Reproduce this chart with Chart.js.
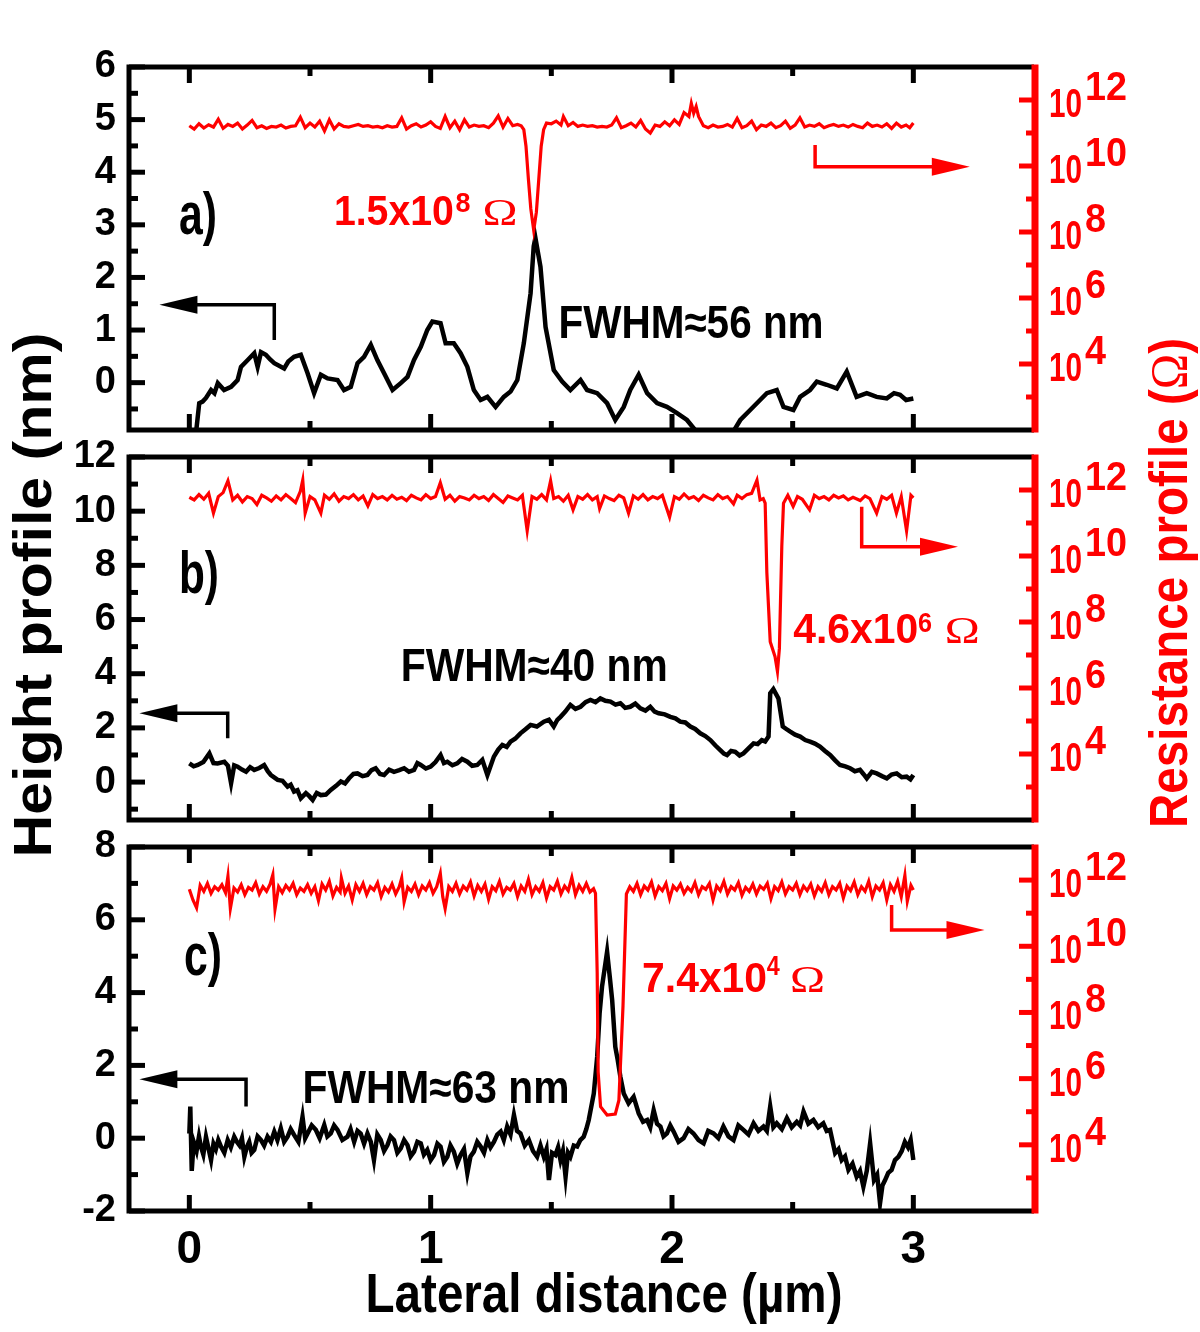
<!DOCTYPE html>
<html>
<head>
<meta charset="utf-8">
<script src="https://cdn.jsdelivr.net/npm/chart.js@4.4.1/dist/chart.umd.min.js"></script>
<style>
  html, body { margin: 0; padding: 0; background: #fff; }
  #wrap { position: relative; width: 1200px; height: 1332px; }
  #wrap canvas { position: absolute; left: 0; top: 0; }
</style>
</head>
<body>
<div id="wrap">
  <canvas id="panelA" width="1200" height="1332"></canvas>
  <canvas id="panelB" width="1200" height="1332"></canvas>
  <canvas id="panelC" width="1200" height="1332"></canvas>
</div>
<script>
'use strict';

// --- Axis ranges and ticks ---
const xRange = [-0.25, 3.5];
const xTicks = [0, 1, 2, 3];
const xMinorTicks = [0.5, 1.5, 2.5];

const heightRangeA = [-0.9, 6];
const heightTicksA = [0, 1, 2, 3, 4, 5, 6];
const heightMinorA = [-0.5, 0.5, 1.5, 2.5, 3.5, 4.5, 5.5];
const heightRangeB = [-1.4, 12];
const heightTicksB = [0, 2, 4, 6, 8, 10, 12];
const heightMinorB = [-1, 1, 3, 5, 7, 9, 11];
const heightRangeC = [-2, 8];
const heightTicksC = [-2, 0, 2, 4, 6, 8];
const heightMinorC = [-1, 1, 3, 5, 7];

// resistance axis, in powers of ten
const resRangeExp = [2, 13];
const resTickExp = [4, 6, 8, 10, 12];
const resMinorExp = [3, 5, 7, 9, 11];

// --- Height profiles (µm, nm) ---
const heightA = [
  [0.022,-1.20],[0.028,-0.94],[0.041,-0.39],[0.055,-0.36],[0.069,-0.29],[0.090,-0.14],[0.104,-0.20],[0.118,-0.01],[0.144,-0.14],
  [0.173,-0.08],[0.200,0.05],[0.214,0.30],[0.242,0.43],[0.269,0.56],[0.283,0.30],[0.297,0.58],[0.317,0.53],[0.335,0.44],
  [0.352,0.37],[0.393,0.27],[0.410,0.40],[0.434,0.49],[0.462,0.53],[0.490,0.18],[0.517,-0.20],[0.545,0.15],[0.573,0.08],
  [0.614,0.05],[0.641,-0.14],[0.669,-0.08],[0.697,0.37],[0.724,0.49],[0.752,0.72],[0.779,0.43],[0.807,0.18],[0.842,-0.14],
  [0.876,-0.01],[0.904,0.11],[0.931,0.43],[0.959,0.68],[0.986,1.00],[1.007,1.16],[1.041,1.13],[1.062,0.75],[1.096,0.75],
  [1.124,0.56],[1.152,0.30],[1.179,-0.14],[1.207,-0.33],[1.235,-0.27],[1.269,-0.46],[1.303,-0.27],[1.331,-0.17],[1.359,0.05],
  [1.386,0.75],[1.414,1.70],[1.427,2.59],[1.434,2.75],[1.455,2.20],[1.476,1.06],[1.510,0.24],[1.545,0.02],[1.579,-0.14],
  [1.621,0.05],[1.648,-0.14],[1.690,-0.20],[1.731,-0.39],[1.765,-0.71],[1.800,-0.46],[1.827,-0.14],[1.862,0.15],[1.897,-0.20],
  [1.938,-0.39],[1.979,-0.46],[2.021,-0.58],[2.062,-0.71],[2.103,-0.94],[2.158,-1.18],[2.233,-1.09],[2.283,-0.71],[2.324,-0.52],
  [2.365,-0.33],[2.393,-0.20],[2.434,-0.14],[2.462,-0.46],[2.503,-0.52],[2.531,-0.27],[2.572,-0.14],[2.600,0.02],[2.641,-0.04],
  [2.683,-0.11],[2.724,0.21],[2.765,-0.27],[2.807,-0.20],[2.848,-0.27],[2.890,-0.30],[2.920,-0.20],[2.945,-0.23],[2.970,-0.33],[3.000,-0.30]
];
const heightB = [
  [0.000,0.69],[0.018,0.58],[0.035,0.63],[0.058,0.74],[0.083,1.06],[0.100,0.70],[0.117,0.69],[0.145,0.75],[0.160,0.60],[0.173,-0.04],
  [0.186,0.62],[0.200,0.57],[0.218,0.46],[0.235,0.38],[0.252,0.55],[0.269,0.45],[0.290,0.52],[0.310,0.63],[0.325,0.40],[0.338,0.26],
  [0.366,0.08],[0.386,0.05],[0.407,-0.17],[0.420,-0.10],[0.434,-0.35],[0.448,-0.30],[0.462,-0.60],[0.483,-0.41],[0.497,-0.52],
  [0.511,-0.66],[0.528,-0.40],[0.545,-0.48],[0.566,-0.46],[0.586,-0.29],[0.608,-0.14],[0.628,0.02],[0.645,-0.05],[0.662,0.14],
  [0.680,0.30],[0.697,0.32],[0.718,0.22],[0.738,0.26],[0.755,0.44],[0.772,0.51],[0.790,0.30],[0.807,0.26],[0.828,0.46],[0.848,0.38],
  [0.870,0.44],[0.890,0.51],[0.910,0.38],[0.931,0.45],[0.945,0.70],[0.959,0.63],[0.980,0.50],[1.000,0.57],[1.020,0.74],[1.041,1.00],
  [1.055,0.70],[1.069,0.75],[1.090,0.62],[1.110,0.69],[1.130,0.85],[1.152,0.75],[1.172,0.60],[1.193,0.63],[1.214,0.82],[1.235,0.26],
  [1.262,0.94],[1.280,1.20],[1.297,1.37],[1.315,1.30],[1.331,1.49],[1.350,1.60],[1.372,1.80],[1.393,1.95],[1.414,2.11],[1.440,2.05],
  [1.469,2.23],[1.490,2.30],[1.510,2.05],[1.525,2.30],[1.538,2.41],[1.558,2.60],[1.579,2.85],[1.600,2.70],[1.621,2.78],[1.642,2.95],
  [1.662,3.03],[1.683,2.95],[1.703,3.09],[1.724,3.00],[1.745,2.97],[1.766,2.86],[1.786,2.91],[1.806,2.74],[1.827,2.78],[1.848,2.90],
  [1.869,2.72],[1.890,2.64],[1.910,2.78],[1.928,2.60],[1.945,2.54],[1.970,2.50],[1.993,2.41],[2.014,2.35],[2.034,2.23],[2.055,2.20],
  [2.076,2.05],[2.096,1.96],[2.117,1.80],[2.138,1.70],[2.159,1.55],[2.180,1.35],[2.200,1.18],[2.215,1.05],[2.228,1.00],[2.245,1.15],
  [2.262,1.12],[2.280,0.98],[2.296,1.06],[2.318,1.25],[2.338,1.43],[2.355,1.40],[2.372,1.55],[2.386,1.50],[2.400,1.68],[2.407,3.28],
  [2.420,3.43],[2.441,3.09],[2.459,2.05],[2.475,1.95],[2.490,1.86],[2.510,1.75],[2.531,1.68],[2.552,1.55],[2.572,1.49],[2.592,1.42],
  [2.613,1.31],[2.634,1.15],[2.655,1.00],[2.676,0.80],[2.696,0.63],[2.718,0.58],[2.738,0.51],[2.758,0.40],[2.779,0.45],[2.793,0.30],
  [2.807,0.14],[2.828,0.38],[2.848,0.32],[2.870,0.22],[2.890,0.14],[2.910,0.28],[2.931,0.32],[2.952,0.18],[2.972,0.20],[2.988,0.10],[3.000,0.26]
];
const heightC = [
  [0.000,0.13],[0.004,0.87],[0.010,-0.90],[0.018,-0.10],[0.030,-0.35],[0.040,0.05],[0.048,-0.23],[0.058,-0.45],[0.069,0.04],
  [0.080,-0.30],[0.090,-0.60],[0.100,-0.15],[0.110,-0.30],[0.120,-0.05],[0.131,-0.23],[0.145,-0.40],[0.159,-0.05],[0.172,-0.25],
  [0.186,0.04],[0.197,-0.10],[0.208,-0.20],[0.218,0.00],[0.228,-0.51],[0.238,-0.25],[0.248,-0.10],[0.258,-0.40],[0.269,-0.32],
  [0.283,0.05],[0.297,-0.05],[0.310,-0.20],[0.324,0.04],[0.338,-0.10],[0.352,0.18],[0.365,-0.05],[0.379,0.27],[0.393,-0.10],
  [0.407,0.04],[0.420,0.25],[0.434,0.09],[0.452,-0.10],[0.469,0.59],[0.480,0.00],[0.490,0.13],[0.507,0.35],[0.524,0.23],
  [0.540,0.00],[0.559,0.36],[0.572,0.05],[0.586,0.13],[0.600,0.35],[0.614,0.23],[0.634,-0.05],[0.655,0.04],[0.668,0.25],
  [0.683,-0.10],[0.697,0.20],[0.710,0.13],[0.724,-0.15],[0.738,0.13],[0.752,-0.10],[0.765,-0.60],[0.779,0.10],[0.793,-0.05],
  [0.807,-0.35],[0.821,-0.19],[0.834,0.05],[0.848,-0.05],[0.862,-0.40],[0.876,-0.28],[0.890,-0.05],[0.904,-0.19],[0.917,-0.50],
  [0.931,-0.37],[0.945,-0.10],[0.959,-0.14],[0.972,-0.45],[0.986,-0.32],[1.000,-0.60],[1.014,-0.46],[1.028,-0.15],[1.041,-0.23],
  [1.055,-0.65],[1.069,-0.51],[1.082,-0.20],[1.096,-0.37],[1.110,-0.70],[1.124,-0.46],[1.138,-0.30],[1.152,-0.96],[1.165,-0.50],
  [1.179,-0.37],[1.193,-0.10],[1.207,-0.23],[1.221,-0.40],[1.235,-0.05],[1.248,-0.25],[1.262,-0.10],[1.276,0.10],[1.290,0.18],
  [1.303,-0.05],[1.317,0.32],[1.331,0.10],[1.345,0.64],[1.358,0.20],[1.372,0.13],[1.390,-0.20],[1.407,-0.05],[1.424,-0.35],
  [1.441,-0.51],[1.455,-0.20],[1.469,-0.51],[1.480,-0.30],[1.490,-1.15],[1.503,-0.40],[1.517,-0.46],[1.528,-0.25],[1.538,-0.60],
  [1.548,-0.35],[1.559,-1.06],[1.569,-0.40],[1.579,-0.51],[1.593,-0.20],[1.607,-0.23],[1.620,-0.05],[1.634,0.04],[1.645,0.25],
  [1.655,0.50],[1.676,1.23],[1.690,2.24],[1.700,3.43],[1.710,4.16],[1.724,4.80],[1.731,5.12],[1.742,4.44],[1.752,3.80],
  [1.765,2.51],[1.775,2.15],[1.786,1.69],[1.800,1.23],[1.820,0.96],[1.841,1.14],[1.862,0.68],[1.880,0.45],[1.897,0.50],
  [1.910,0.30],[1.924,0.77],[1.938,0.40],[1.952,0.32],[1.965,0.05],[1.979,0.13],[1.993,0.35],[2.007,0.18],[2.027,-0.10],
  [2.048,0.00],[2.068,0.25],[2.089,0.13],[2.110,-0.05],[2.131,-0.14],[2.150,0.20],[2.172,0.13],[2.192,0.00],[2.213,0.32],
  [2.234,0.05],[2.255,-0.05],[2.275,0.35],[2.296,0.23],[2.317,0.10],[2.338,0.41],[2.358,0.20],[2.379,0.32],[2.393,0.20],
  [2.407,0.87],[2.420,0.30],[2.434,0.41],[2.455,0.25],[2.476,0.55],[2.496,0.30],[2.517,0.45],[2.531,0.35],[2.545,0.73],
  [2.565,0.40],[2.586,0.50],[2.606,0.30],[2.627,0.41],[2.641,0.20],[2.655,0.23],[2.676,-0.41],[2.690,-0.30],[2.703,-0.60],
  [2.717,-0.50],[2.731,-0.87],[2.748,-0.70],[2.765,-1.06],[2.779,-0.90],[2.793,-1.33],[2.807,-0.90],[2.821,-0.14],[2.837,-1.15],
  [2.850,-1.00],[2.862,-1.79],[2.872,-1.30],[2.883,-1.15],[2.896,-0.95],[2.910,-0.87],[2.924,-0.60],[2.938,-0.51],[2.952,-0.35],
  [2.965,-0.10],[2.978,-0.25],[2.989,-0.05],[3.000,-0.60]
];

// --- Resistance profiles (µm, log10 of Ω) ---
const resA = [
  [0.00,11.22],[0.02,11.12],[0.04,11.28],[0.06,11.15],[0.08,11.25],[0.10,11.18],[0.12,11.42],[0.14,11.14],[0.16,11.26],[0.18,11.20],
  [0.20,11.30],[0.22,11.12],[0.24,11.24],[0.26,11.38],[0.28,11.16],[0.30,11.22],[0.32,11.14],[0.34,11.20],[0.36,11.18],[0.38,11.24],
  [0.40,11.15],[0.42,11.20],[0.44,11.22],[0.46,11.48],[0.48,11.16],[0.50,11.30],[0.52,11.18],[0.54,11.36],[0.56,11.06],[0.58,11.40],
  [0.60,11.12],[0.62,11.28],[0.64,11.20],[0.66,11.18],[0.68,11.22],[0.70,11.26],[0.72,11.20],[0.74,11.22],[0.76,11.18],[0.78,11.20],
  [0.80,11.16],[0.82,11.22],[0.84,11.18],[0.86,11.20],[0.88,11.46],[0.90,11.12],[0.92,11.22],[0.94,11.28],[0.96,11.18],[0.98,11.24],
  [1.00,11.34],[1.02,11.20],[1.04,11.14],[1.06,11.50],[1.08,11.16],[1.10,11.36],[1.12,11.10],[1.14,11.40],[1.16,11.18],[1.18,11.24],
  [1.20,11.20],[1.22,11.22],[1.24,11.16],[1.26,11.30],[1.28,11.52],[1.30,11.18],[1.32,11.44],[1.34,11.22],[1.36,11.26],[1.375,11.22],
  [1.386,11.10],[1.395,10.60],[1.405,9.60],[1.415,8.70],[1.427,8.05],[1.438,8.60],[1.448,9.60],[1.458,10.60],[1.468,11.10],
  [1.48,11.30],[1.50,11.28],[1.52,11.36],[1.54,11.24],[1.55,11.50],[1.57,11.22],[1.59,11.32],[1.61,11.20],[1.63,11.24],[1.65,11.20],
  [1.67,11.22],[1.69,11.18],[1.71,11.20],[1.73,11.18],[1.75,11.24],[1.77,11.46],[1.79,11.16],[1.81,11.22],[1.83,11.30],[1.85,11.18],
  [1.87,11.38],[1.89,11.12],[1.91,11.00],[1.93,11.24],[1.95,11.20],[1.97,11.34],[1.99,11.22],[2.01,11.40],[2.03,11.26],[2.05,11.62],
  [2.07,11.50],[2.08,11.90],[2.09,11.60],[2.10,11.80],[2.11,11.50],[2.13,11.22],[2.15,11.16],[2.17,11.24],[2.19,11.18],[2.21,11.20],
  [2.23,11.26],[2.25,11.18],[2.27,11.44],[2.29,11.16],[2.31,11.22],[2.33,11.36],[2.35,11.10],[2.37,11.24],[2.39,11.20],[2.41,11.30],
  [2.43,11.16],[2.45,11.22],[2.47,11.36],[2.49,11.14],[2.51,11.24],[2.53,11.46],[2.55,11.18],[2.57,11.24],[2.59,11.20],[2.61,11.28],
  [2.63,11.16],[2.65,11.22],[2.67,11.26],[2.69,11.20],[2.71,11.24],[2.73,11.18],[2.75,11.26],[2.77,11.20],[2.79,11.16],[2.81,11.30],
  [2.83,11.20],[2.85,11.24],[2.87,11.18],[2.89,11.28],[2.91,11.14],[2.93,11.30],[2.95,11.18],[2.97,11.24],[2.985,11.16],[3.00,11.30]
];
const resB = [
  [0.00,11.78],[0.02,11.70],[0.04,11.86],[0.06,11.72],[0.08,11.90],[0.10,11.30],[0.12,11.80],[0.14,11.92],[0.16,12.28],[0.18,11.70],
  [0.20,11.84],[0.22,11.64],[0.24,11.80],[0.26,11.74],[0.28,11.56],[0.30,11.84],[0.32,11.76],[0.34,11.66],[0.36,11.82],[0.38,11.70],
  [0.40,11.86],[0.42,11.74],[0.44,11.62],[0.46,11.96],[0.47,12.30],[0.48,11.30],[0.50,11.80],[0.52,11.70],[0.545,11.30],[0.56,11.84],
  [0.58,11.72],[0.60,11.88],[0.62,11.66],[0.64,11.80],[0.66,11.74],[0.68,11.86],[0.70,11.70],[0.72,11.82],[0.74,11.52],[0.76,11.86],
  [0.78,11.74],[0.80,11.80],[0.82,11.70],[0.84,11.84],[0.86,11.72],[0.88,11.78],[0.90,11.68],[0.92,11.84],[0.94,11.76],[0.96,11.70],
  [0.98,11.86],[1.00,11.74],[1.02,11.80],[1.04,12.22],[1.06,11.72],[1.08,11.84],[1.10,11.66],[1.12,11.80],[1.14,11.76],[1.16,11.70],
  [1.18,11.84],[1.20,11.74],[1.22,11.80],[1.24,11.68],[1.26,11.86],[1.28,11.74],[1.30,11.62],[1.32,11.82],[1.34,11.76],[1.36,11.70],
  [1.38,11.84],[1.40,10.76],[1.42,11.80],[1.44,11.72],[1.46,11.86],[1.48,11.70],[1.497,12.28],[1.51,11.74],[1.53,11.80],[1.55,11.66],
  [1.57,11.84],[1.59,11.40],[1.61,11.80],[1.63,11.72],[1.65,11.86],[1.67,11.70],[1.69,11.80],[1.70,11.44],[1.72,11.82],[1.74,11.74],
  [1.76,11.68],[1.78,11.84],[1.80,11.76],[1.82,11.30],[1.84,11.82],[1.86,11.72],[1.88,11.86],[1.90,11.70],[1.92,11.80],[1.94,11.74],
  [1.96,11.84],[1.99,11.18],[2.01,11.80],[2.03,11.72],[2.05,11.88],[2.07,11.74],[2.09,11.80],[2.11,11.68],[2.13,11.84],[2.15,11.76],
  [2.17,11.70],[2.19,11.86],[2.21,11.74],[2.23,11.80],[2.255,11.58],[2.27,11.84],[2.29,11.74],[2.31,11.86],[2.33,11.90],[2.352,12.30],
  [2.365,11.70],[2.378,11.74],[2.386,11.60],[2.393,9.50],[2.407,7.40],[2.427,6.95],[2.437,6.50],[2.445,7.20],[2.455,10.30],[2.462,11.60],
  [2.48,11.84],[2.502,11.50],[2.52,11.80],[2.54,11.72],[2.57,11.40],[2.59,11.84],[2.61,11.74],[2.63,11.80],[2.65,11.70],[2.67,11.84],
  [2.69,11.76],[2.71,11.82],[2.73,11.70],[2.75,11.78],[2.78,11.68],[2.80,11.82],[2.82,11.74],[2.848,11.30],[2.87,11.80],[2.89,11.72],
  [2.91,11.84],[2.93,11.30],[2.95,11.80],[2.972,10.76],[2.99,11.84],[3.00,11.76]
];
const resC = [
  [0.000,11.72],[0.015,11.40],[0.030,11.16],[0.045,11.84],[0.060,11.66],[0.075,11.90],[0.090,11.60],[0.105,11.80],[0.120,11.70],
  [0.135,11.86],[0.150,11.62],[0.160,12.12],[0.170,11.14],[0.185,11.76],[0.200,11.64],[0.215,11.86],[0.230,11.56],[0.245,11.78],
  [0.260,11.70],[0.275,11.92],[0.290,11.58],[0.305,11.80],[0.320,11.66],[0.335,11.88],[0.346,12.16],[0.355,11.12],[0.370,11.80],
  [0.385,11.62],[0.400,11.84],[0.415,11.70],[0.430,11.90],[0.445,11.56],[0.460,11.76],[0.475,11.66],[0.490,11.86],[0.505,11.60],
  [0.520,11.80],[0.535,11.38],[0.550,11.88],[0.565,11.70],[0.580,11.96],[0.595,11.52],[0.610,11.78],[0.625,11.64],[0.630,12.06],
  [0.645,11.60],[0.660,11.82],[0.675,11.40],[0.690,11.86],[0.705,11.66],[0.720,11.90],[0.735,11.56],[0.750,11.80],[0.765,11.70],
  [0.780,11.92],[0.795,11.50],[0.810,11.78],[0.825,11.64],[0.840,11.88],[0.855,11.58],[0.870,11.80],[0.880,12.06],[0.890,11.34],
  [0.905,11.78],[0.920,11.66],[0.935,11.88],[0.950,11.56],[0.965,11.82],[0.980,11.70],[0.995,11.92],[1.010,11.60],[1.025,11.80],
  [1.040,12.20],[1.050,11.50],[1.060,11.14],[1.075,11.80],[1.090,11.66],[1.105,11.90],[1.120,11.58],[1.135,11.82],[1.150,11.70],
  [1.165,11.94],[1.180,11.52],[1.195,11.84],[1.210,11.66],[1.225,11.88],[1.240,11.42],[1.255,11.80],[1.270,11.68],[1.285,11.96],
  [1.300,11.58],[1.315,11.78],[1.330,11.70],[1.345,11.90],[1.360,11.50],[1.375,11.82],[1.390,11.66],[1.405,12.02],[1.420,11.56],
  [1.435,11.80],[1.450,11.66],[1.465,11.92],[1.480,11.46],[1.495,11.80],[1.510,11.70],[1.525,11.96],[1.540,11.58],[1.555,11.82],
  [1.570,11.68],[1.585,12.08],[1.600,11.56],[1.615,11.84],[1.630,11.66],[1.645,11.90],[1.660,11.64],[1.675,11.74],
  [1.683,11.60],[1.690,9.20],[1.694,6.20],[1.704,5.15],[1.731,4.90],[1.765,4.93],[1.780,5.35],[1.797,8.20],[1.811,11.58],
  [1.825,11.80],[1.840,11.66],[1.855,11.90],[1.870,11.56],[1.885,11.82],[1.900,11.70],[1.915,11.94],[1.930,11.52],[1.945,11.80],
  [1.960,11.68],[1.975,11.90],[1.990,11.44],[2.005,11.82],[2.020,11.70],[2.035,11.88],[2.050,11.60],[2.065,11.78],[2.080,11.66],
  [2.095,11.92],[2.110,11.56],[2.125,11.80],[2.140,11.72],[2.155,11.90],[2.170,11.40],[2.185,11.82],[2.200,11.68],[2.215,11.96],
  [2.230,11.58],[2.245,11.80],[2.260,11.70],[2.275,11.92],[2.290,11.54],[2.305,11.78],[2.320,11.66],[2.335,11.88],[2.350,11.58],
  [2.365,11.82],[2.380,11.72],[2.395,11.90],[2.410,11.44],[2.425,11.80],[2.440,11.68],[2.455,11.94],[2.470,11.58],[2.485,11.80],
  [2.500,11.70],[2.515,11.90],[2.530,11.56],[2.545,11.82],[2.560,11.68],[2.575,11.88],[2.590,11.52],[2.605,11.80],[2.620,11.66],
  [2.635,11.92],[2.650,11.56],[2.665,11.80],[2.680,11.70],[2.695,11.90],[2.710,11.46],[2.725,11.82],[2.740,11.68],[2.755,11.94],
  [2.770,11.56],[2.785,11.80],[2.800,11.66],[2.815,11.96],[2.830,11.50],[2.845,11.82],[2.860,11.70],[2.875,11.92],[2.890,11.40],
  [2.905,11.86],[2.920,11.66],[2.935,11.96],[2.950,11.50],[2.965,12.14],[2.975,11.36],[2.990,11.84],[3.000,11.70]
];

// --- Look ---
const SANS = "'Liberation Sans', Arial, Helvetica, sans-serif";
const SERIF = "'Liberation Serif', 'DejaVu Serif', 'Times New Roman', serif";
const BLACK = '#000000';
const RED = '#ff0000';

// --- Annotations (in data units of each panel; res y in powers of ten) ---
const textsA = [
  { t: 'a)', x: -0.043, y: 2.83, size: 60, w: 38, color: BLACK },
  { t: '1.5x10', x: 0.599, y: 3.0, size: 42, w: 120, color: RED },
  { t: '8', x: 1.103, y: 3.24, size: 28, w: 15, color: RED },
  { t: 'Ω', x: 1.215, y: 3.0, size: 38, w: 35, color: RED, serif: true },
  { t: 'FWHM≈56 nm', x: 1.53, y: 0.85, size: 46, w: 265, color: BLACK }
];
const textsB = [
  { t: 'b)', x: -0.043, y: 6.98, size: 60, w: 40, color: BLACK },
  { t: 'FWHM≈40 nm', x: 0.876, y: 3.73, size: 46, w: 267, color: BLACK },
  { t: '4.6x10', x: 2.502, y: 5.13, size: 42, w: 125, color: RED },
  { t: '6', x: 3.019, y: 5.54, size: 28, w: 14, color: RED },
  { t: 'Ω', x: 3.13, y: 5.13, size: 38, w: 35, color: RED, serif: true }
];
const textsC = [
  { t: 'c)', x: -0.022, y: 4.48, size: 60, w: 38, color: BLACK },
  { t: 'FWHM≈63 nm', x: 0.469, y: 0.97, size: 46, w: 267, color: BLACK },
  { t: '7.4x10', x: 1.876, y: 4.02, size: 42, w: 125, color: RED },
  { t: '4', x: 2.393, y: 4.48, size: 28, w: 13, color: RED },
  { t: 'Ω', x: 2.489, y: 4.02, size: 38, w: 35, color: RED, serif: true }
];
const arrowsA = [
  { x: 0.352, from: 0.81, to: 1.48, tip: -0.124, axis: 'y', color: BLACK },
  { x: 2.593, from: 10.64, to: 9.98, tip: 3.234, axis: 'res', color: RED }
];
const arrowsB = [
  { x: 0.159, from: 1.62, to: 2.54, tip: -0.207, axis: 'y', color: BLACK },
  { x: 2.786, from: 11.49, to: 10.28, tip: 3.185, axis: 'res', color: RED }
];
const arrowsC = [
  { x: 0.235, from: 0.87, to: 1.62, tip: -0.207, axis: 'y', color: BLACK },
  { x: 2.91, from: 11.25, to: 10.49, tip: 3.295, axis: 'res', color: RED }
];

// --- Text helpers ---
function drawFitted(ctx, str, x, y, font, targetW) {
  ctx.font = font;
  const m = ctx.measureText(str).width;
  const sx = targetW ? targetW / m : 1;
  ctx.save();
  ctx.translate(x, y);
  ctx.scale(sx, 1);
  ctx.fillText(str, 0, 0);
  ctx.restore();
  return m * sx;
}

// runs drawn along a line, scaled together to a total length, centred at (0, 0)
function drawRunsCentered(ctx, runs, totalW) {
  let natural = 0;
  runs.forEach(r => { ctx.font = r.font; r.m = ctx.measureText(r.t).width; natural += r.m; });
  const sx = totalW / natural;
  let cx = -totalW / 2;
  runs.forEach(r => {
    ctx.save();
    ctx.font = r.font;
    ctx.translate(cx, 0);
    ctx.scale(sx, 1);
    ctx.fillText(r.t, 0, 0);
    ctx.restore();
    cx += r.m * sx;
  });
}

// --- Plugin: frame, inward ticks, log labels, arrows, notes, titles ---
const decorPlugin = {
  id: 'decor',
  afterDraw(chart, args, opts) {
    const ctx = chart.ctx;
    const area = chart.chartArea;
    const xs = chart.scales.x, ys = chart.scales.y, rs = chart.scales.yRes;
    const line = (x1, y1, x2, y2) => { ctx.beginPath(); ctx.moveTo(x1, y1); ctx.lineTo(x2, y2); ctx.stroke(); };
    ctx.save();
    ctx.lineCap = 'butt';

    // ticks
    ctx.lineWidth = 5;
    ctx.strokeStyle = BLACK;
    xTicks.forEach(v => {
      const px = xs.getPixelForValue(v);
      line(px, area.top, px, area.top + 16);
      line(px, area.bottom, px, area.bottom - 16);
    });
    xMinorTicks.forEach(v => {
      const px = xs.getPixelForValue(v);
      line(px, area.top, px, area.top + 9);
      line(px, area.bottom, px, area.bottom - 9);
    });
    opts.hTicks.forEach(v => { const py = ys.getPixelForValue(v); line(area.left, py, area.left + 16, py); });
    opts.hMinor.forEach(v => { const py = ys.getPixelForValue(v); line(area.left, py, area.left + 9, py); });
    ctx.strokeStyle = RED;
    resTickExp.forEach(e => { const py = rs.getPixelForValue(Math.pow(10, e)); line(area.right, py, area.right - 15, py); });
    resMinorExp.forEach(e => { const py = rs.getPixelForValue(Math.pow(10, e)); line(area.right, py, area.right - 8, py); });

    // frame
    ctx.strokeStyle = BLACK;
    ctx.lineWidth = 5;
    ctx.beginPath();
    ctx.moveTo(area.right, area.top);
    ctx.lineTo(area.left, area.top);
    ctx.lineTo(area.left, area.bottom);
    ctx.lineTo(area.right, area.bottom);
    ctx.stroke();
    ctx.strokeStyle = RED;
    ctx.lineWidth = 7;
    line(area.right + 1, area.top - 2.5, area.right + 1, area.bottom + 2.5);

    // right axis labels 10^n
    ctx.fillStyle = RED;
    ctx.textAlign = 'left';
    ctx.textBaseline = 'alphabetic';
    resTickExp.forEach(e => {
      const py = rs.getPixelForValue(Math.pow(10, e));
      drawFitted(ctx, '10', area.right + 15, py + 17, 'bold 40px ' + SANS, 33);
      const exp = String(e);
      drawFitted(ctx, exp, area.right + 51, py + 0, 'bold 41px ' + SANS, exp.length > 1 ? 42 : 21);
    });

    // arrows
    opts.arrows.forEach(a => {
      const sc = a.axis === 'res' ? rs : ys;
      const val = v => a.axis === 'res' ? Math.pow(10, v) : v;
      const px = xs.getPixelForValue(a.x);
      const y1 = sc.getPixelForValue(val(a.from));
      const y2 = sc.getPixelForValue(val(a.to));
      const tx = xs.getPixelForValue(a.tip);
      const dir = tx < px ? -1 : 1;
      ctx.strokeStyle = a.color;
      ctx.fillStyle = a.color;
      ctx.lineWidth = 3.5;
      ctx.beginPath();
      ctx.moveTo(px, y1);
      ctx.lineTo(px, y2);
      ctx.lineTo(tx - dir * 30, y2);
      ctx.stroke();
      ctx.beginPath();
      ctx.moveTo(tx, y2);
      ctx.lineTo(tx - dir * 38, y2 - 9);
      ctx.lineTo(tx - dir * 38, y2 + 9);
      ctx.closePath();
      ctx.fill();
    });

    // notes
    opts.texts.forEach(n => {
      ctx.fillStyle = n.color;
      const font = n.serif ? (n.size + 'px ' + SERIF) : ('bold ' + n.size + 'px ' + SANS);
      drawFitted(ctx, n.t, xs.getPixelForValue(n.x), ys.getPixelForValue(n.y), font, n.w);
    });

    // page titles (drawn once)
    if (opts.titles) {
      ctx.fillStyle = BLACK;
      ctx.save();
      ctx.translate(51, 595);
      ctx.rotate(-Math.PI / 2);
      drawRunsCentered(ctx, [{ t: 'Height profile (nm)', font: 'bold 53px ' + SANS }], 525);
      ctx.restore();

      ctx.fillStyle = RED;
      ctx.save();
      ctx.translate(1187, 583);
      ctx.rotate(-Math.PI / 2);
      drawRunsCentered(ctx, [
        { t: 'Resistance profile (', font: 'bold 53px ' + SANS },
        { t: 'Ω', font: '53px ' + SERIF },
        { t: ')', font: 'bold 53px ' + SANS }
      ], 490);
      ctx.restore();

      ctx.fillStyle = BLACK;
      ctx.save();
      ctx.translate(604, 1312);
      drawRunsCentered(ctx, [{ t: 'Lateral distance (µm)', font: 'bold 56px ' + SANS }], 477);
      ctx.restore();
    }
    ctx.restore();
  }
};

// --- Build one panel ---
function makePanel(canvasId, cfg) {
  const ctx = document.getElementById(canvasId).getContext('2d');
  const xHeight = cfg.showX ? 60 : 0;
  return new Chart(ctx, {
    type: 'line',
    data: {
      datasets: [
        {
          label: 'Resistance',
          data: cfg.res.map(p => ({ x: p[0], y: Math.pow(10, p[1]) })),
          yAxisID: 'yRes',
          borderColor: RED,
          borderWidth: 3.2,
          pointRadius: 0,
          tension: 0
        },
        {
          label: 'Height',
          data: cfg.height.map(p => ({ x: p[0], y: p[1] })),
          yAxisID: 'y',
          borderColor: BLACK,
          borderWidth: 4.5,
          pointRadius: 0,
          tension: 0
        }
      ]
    },
    options: {
      responsive: false,
      animation: false,
      events: [],
      layout: { padding: { left: 0, right: 166, top: cfg.top, bottom: 1332 - cfg.bottom - xHeight } },
      plugins: {
        legend: { display: false },
        tooltip: { enabled: false },
        decor: { hTicks: cfg.hTicks, hMinor: cfg.hMinor, texts: cfg.texts, arrows: cfg.arrows, titles: cfg.titles }
      },
      scales: {
        x: {
          type: 'linear',
          display: cfg.showX,
          min: xRange[0],
          max: xRange[1],
          afterBuildTicks: axis => { axis.ticks = xTicks.map(v => ({ value: v })); },
          afterFit: axis => { axis.height = xHeight; },
          grid: { display: false, drawTicks: false },
          border: { display: false },
          ticks: {
            color: BLACK,
            padding: 12,
            maxRotation: 0,
            font: { family: SANS, size: 46, weight: 'bold' },
            callback: v => String(v)
          }
        },
        y: {
          type: 'linear',
          position: 'left',
          min: cfg.hRange[0],
          max: cfg.hRange[1],
          afterBuildTicks: axis => { axis.ticks = cfg.hTicks.map(v => ({ value: v })); },
          afterFit: axis => { axis.width = 129; },
          grid: { display: false, drawTicks: false },
          border: { display: false },
          ticks: {
            color: BLACK,
            padding: 13,
            font: { family: SANS, size: 38, weight: 'bold' },
            callback: v => String(v)
          }
        },
        yRes: {
          type: 'logarithmic',
          axis: 'y',
          position: 'right',
          display: false,
          min: Math.pow(10, resRangeExp[0]),
          max: Math.pow(10, resRangeExp[1])
        }
      }
    },
    plugins: [decorPlugin]
  });
}

makePanel('panelA', { top: 67, bottom: 430, height: heightA, res: resA, hRange: heightRangeA, hTicks: heightTicksA, hMinor: heightMinorA, showX: false, texts: textsA, arrows: arrowsA, titles: false });
makePanel('panelB', { top: 457, bottom: 820, height: heightB, res: resB, hRange: heightRangeB, hTicks: heightTicksB, hMinor: heightMinorB, showX: false, texts: textsB, arrows: arrowsB, titles: false });
makePanel('panelC', { top: 847, bottom: 1211, height: heightC, res: resC, hRange: heightRangeC, hTicks: heightTicksC, hMinor: heightMinorC, showX: true, texts: textsC, arrows: arrowsC, titles: true });
</script>
</body>
</html>
